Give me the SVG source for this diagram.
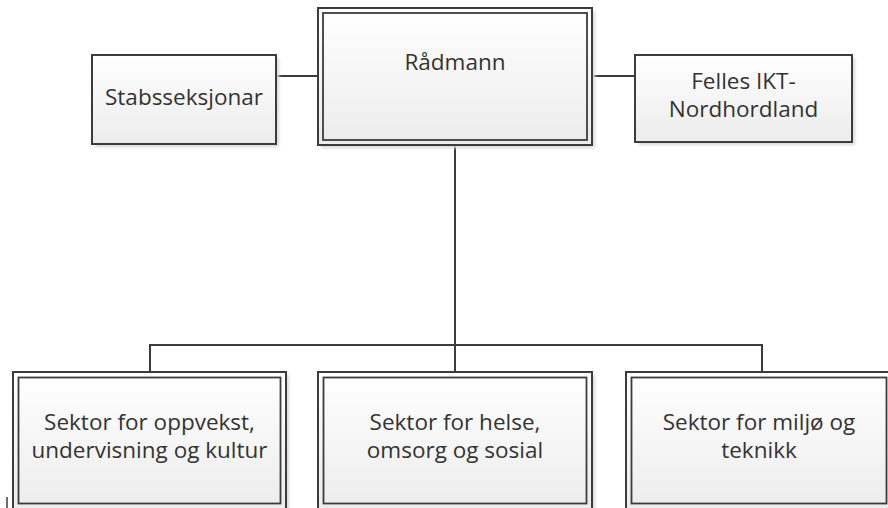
<svg xmlns="http://www.w3.org/2000/svg" width="888" height="508" viewBox="0 0 888 508">
<defs>
<linearGradient id="g" x1="0" y1="0" x2="0" y2="1">
<stop offset="0" stop-color="#ffffff"/>
<stop offset="1" stop-color="#ececec"/>
</linearGradient>
<filter id="sh" x="-10%" y="-10%" width="130%" height="130%">
<feGaussianBlur stdDeviation="1.5"/>
</filter>
<style>
.shadow{fill:#d9d9d9;filter:url(#sh)}
.box{fill:url(#g);stroke:#3c3c3c;stroke-width:2}
.inner{fill:none;stroke:#3c3c3c;stroke-width:1.8}
.conn{fill:none;stroke:#3c3c3c;stroke-width:2}
text{font-family:"Open Sans","Noto Sans",sans-serif;font-size:22.5px;fill:#333333;text-anchor:middle}
</style>
</defs>
<rect width="888" height="508" fill="#ffffff"/>
<g id="connectors">
<line class="conn" x1="276" y1="76" x2="318" y2="76"/>
<line class="conn" x1="592" y1="76" x2="635" y2="76"/>
<line class="conn" x1="455" y1="145" x2="455" y2="372"/>
<polyline class="conn" points="150,372 150,345 762,345 762,372"/>
</g>
<g id="radmann">
<rect class="shadow" x="321" y="11" width="274" height="137"/>
<rect class="box" x="318" y="8" width="274" height="137"/>
<rect class="inner" x="323" y="13" width="264" height="127"/>
<text x="455" y="70">Rådmann</text>
</g>
<g id="stabsseksjonar">
<rect class="shadow" x="95" y="58" width="184" height="89"/>
<rect class="box" x="92" y="55" width="184" height="89"/>
<text x="184" y="105">Stabsseksjonar</text>
</g>
<g id="felles-ikt">
<rect class="shadow" x="638" y="58" width="217" height="87"/>
<rect class="box" x="635" y="55" width="217" height="87"/>
<text x="743.5" y="89">Felles IKT-</text>
<text x="743.5" y="117">Nordhordland</text>
</g>
<g id="sektor-oppvekst">
<rect class="shadow" x="16" y="375" width="273" height="140"/>
<rect class="box" x="13" y="372" width="273" height="140"/>
<rect class="inner" x="18.5" y="377.5" width="262" height="126"/>
<text x="149.5" y="430">Sektor for oppvekst,</text>
<text x="149.5" y="458">undervisning og kultur</text>
</g>
<g id="sektor-helse">
<rect class="shadow" x="321" y="375" width="274" height="140"/>
<rect class="box" x="318" y="372" width="274" height="140"/>
<rect class="inner" x="323.5" y="377.5" width="263" height="126"/>
<text x="455" y="430">Sektor for helse,</text>
<text x="455" y="458">omsorg og sosial</text>
</g>
<g id="sektor-miljo">
<rect class="shadow" x="629" y="375" width="266" height="140"/>
<rect class="box" x="626" y="372" width="266" height="140"/>
<rect class="inner" x="631.5" y="377.5" width="255" height="126"/>
<text x="759" y="430">Sektor for miljø og</text>
<text x="759" y="458">teknikk</text>
</g>
<line x1="7" y1="497" x2="7" y2="508" stroke="#3c3c3c" stroke-width="1.5"/>
</svg>
